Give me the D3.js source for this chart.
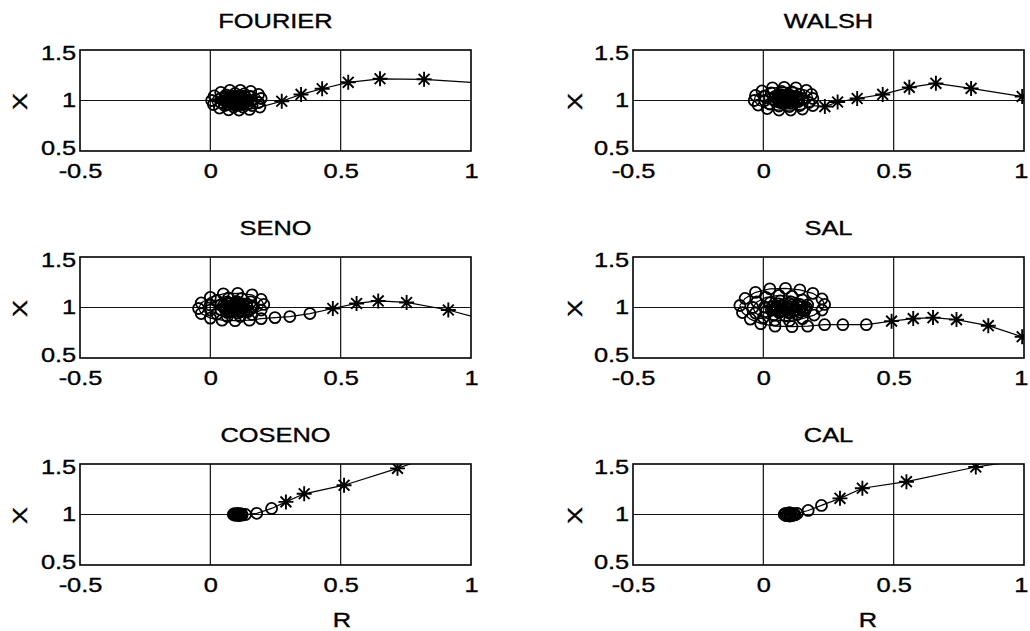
<!DOCTYPE html>
<html>
<head>
<meta charset="utf-8">
<script src="https://cdn.jsdelivr.net/npm/d3@7"></script>
<style>
  body { margin: 0; background: #fff; }
  svg { display: block; }
  text { font-family: "Liberation Sans", Arial, sans-serif; fill: #000; stroke: #000; stroke-width: 0.35px; }
</style>
</head>
<body>
<div id="chart"></div>
<script>
// ticks and titles
var xTicks = [-0.5, 0, 0.5, 1];
var yTicks = [0.5, 1, 1.5];
var titles = ["FOURIER", "WALSH", "SENO", "SAL", "COSENO", "CAL"];

// FOURIER
var fourierStarR = [1.12, 0.82, 0.651, 0.529, 0.429, 0.348, 0.274];
var fourierStarX = [1.16, 1.21, 1.215, 1.18, 1.116, 1.06, 0.993];
var fourierCircR = [0.19, 0.15, 0.11, 0.07, 0.035, 0.012, 0.005, 0.015, 0.04, 0.075, 0.115, 0.155, 0.185, 0.195, 0.185, 0.16,
                    0.125, 0.09, 0.055, 0.04, 0.04, 0.06, 0.095, 0.13, 0.155, 0.16, 0.145,
                    0.12, 0.09, 0.07, 0.07, 0.09, 0.115, 0.132, 0.125,
                    0.14, 0.13, 0.1, 0.07, 0.055, 0.06, 0.08, 0.11, 0.135, 0.145, 0.12, 0.085, 0.065, 0.075, 0.1, 0.125, 0.115, 0.09,
                    0.125, 0.11, 0.09, 0.076, 0.076, 0.09, 0.11, 0.124,
                    0.115, 0.1, 0.087, 0.087, 0.1, 0.113, 0.105, 0.1];
var fourierCircX = [0.935, 0.912, 0.905, 0.908, 0.925, 0.96, 1.0, 1.045, 1.08, 1.10, 1.10, 1.09, 1.06, 1.02, 0.98, 0.95,
                    0.935, 0.935, 0.95, 0.98, 1.02, 1.055, 1.07, 1.065, 1.04, 1.0, 0.97,
                    0.96, 0.962, 0.985, 1.015, 1.035, 1.035, 1.01, 0.985,
                    1.0, 0.965, 0.955, 0.965, 0.995, 1.03, 1.045, 1.045, 1.03, 1.0, 0.975, 0.975, 1.0, 1.025, 1.03, 1.015, 0.99, 0.99,
                    0.99, 0.977, 0.977, 0.99, 1.01, 1.023, 1.023, 1.01,
                    0.992, 0.985, 0.992, 1.008, 1.015, 1.008, 0.998, 1.0];

// WALSH
var walshStarR = [0.993, 0.797, 0.662, 0.56, 0.458, 0.36, 0.285, 0.236];
var walshStarX = [1.04, 1.12, 1.17, 1.13, 1.06, 1.02, 0.985, 0.94];
var walshCircR = [0.19, 0.15, 0.105, 0.06, 0.015, -0.02, -0.035, -0.03, -0.005, 0.035, 0.08, 0.125, 0.165, 0.185, 0.19, 0.175,
                  0.14, 0.1, 0.06, 0.025, 0.005, 0.005, 0.03, 0.07, 0.11, 0.14, 0.15, 0.135,
                  0.105, 0.07, 0.045, 0.045, 0.065, 0.095, 0.115, 0.115,
                  0.13, 0.115, 0.09, 0.06, 0.04, 0.045, 0.07, 0.1, 0.125, 0.135, 0.11, 0.08, 0.055, 0.065, 0.09, 0.115,
                  0.095, 0.07, 0.058, 0.06, 0.078, 0.098, 0.105, 0.09, 0.075, 0.08, 0.075];
var walshCircX = [0.95, 0.915, 0.905, 0.905, 0.92, 0.955, 1.0, 1.05, 1.095, 1.125, 1.13, 1.125, 1.10, 1.06, 1.02, 0.98,
                  0.95, 0.94, 0.945, 0.965, 1.0, 1.04, 1.075, 1.09, 1.085, 1.06, 1.02, 0.99,
                  0.975, 0.975, 0.995, 1.03, 1.055, 1.06, 1.04, 1.01,
                  1.02, 0.99, 0.98, 0.985, 1.01, 1.04, 1.055, 1.055, 1.04, 1.01, 1.0, 1.0, 1.02, 1.04, 1.035, 1.025,
                  0.99, 0.99, 1.005, 1.03, 1.045, 1.04, 1.02, 1.0, 1.01, 1.025, 1.02];

// SENO
var senoStarR = [1.05, 0.913, 0.753, 0.644, 0.561, 0.47];
var senoStarX = [0.88, 0.975, 1.05, 1.065, 1.04, 0.99];
var senoCircR = [0.382, 0.305, 0.248,
                 0.195, 0.15, 0.095, 0.045, 0.0, -0.035, -0.045, -0.035, 0.0, 0.05, 0.105, 0.16, 0.195, 0.205, 0.195, 0.16,
                 0.115, 0.065, 0.025, 0.0, 0.0, 0.025, 0.07, 0.12, 0.155, 0.165, 0.145,
                 0.105, 0.065, 0.04, 0.04, 0.065, 0.1, 0.125, 0.125,
                 0.16, 0.145, 0.115, 0.08, 0.055, 0.05, 0.07, 0.105, 0.14, 0.16, 0.135, 0.1, 0.075, 0.085, 0.115, 0.14, 0.12, 0.095,
                 0.11, 0.085, 0.062, 0.058, 0.075, 0.1, 0.112, 0.1, 0.075, 0.075, 0.085];
var senoCircX = [0.94, 0.91, 0.9,
                 0.89, 0.875, 0.87, 0.875, 0.895, 0.94, 0.99, 1.045, 1.10, 1.135, 1.14, 1.125, 1.08, 1.03, 0.975, 0.93,
                 0.91, 0.91, 0.935, 0.975, 1.025, 1.07, 1.095, 1.09, 1.055, 1.005, 0.96,
                 0.945, 0.95, 0.98, 1.025, 1.055, 1.06, 1.035, 0.995,
                 1.0, 0.965, 0.955, 0.96, 0.985, 1.02, 1.045, 1.05, 1.035, 1.005, 0.98, 0.975, 1.0, 1.025, 1.03, 1.01, 0.995, 1.0,
                 0.97, 0.965, 0.98, 1.01, 1.035, 1.035, 1.01, 0.985, 0.99, 1.01, 1.005];

// SAL
var salStarR = [0.993, 0.863, 0.741, 0.651, 0.575, 0.492];
var salStarX = [0.71, 0.82, 0.88, 0.90, 0.89, 0.865];
var salCircR = [0.395, 0.305, 0.235,
                0.17, 0.11, 0.045, -0.01, -0.05, -0.08, -0.09, -0.07, -0.03, 0.025, 0.085, 0.14, 0.19, 0.225, 0.235, 0.225, 0.195, 0.15,
                0.1, 0.045, 0.0, -0.03, -0.04, -0.025, 0.01, 0.06, 0.11, 0.15, 0.17, 0.16, 0.13,
                0.085, 0.04, 0.01, 0.005, 0.025, 0.065, 0.105, 0.13, 0.125, 0.1,
                0.16, 0.14, 0.1, 0.06, 0.035, 0.035, 0.06, 0.1, 0.14, 0.165, 0.15, 0.115, 0.075, 0.05, 0.07, 0.11, 0.145, 0.125, 0.09,
                0.065, 0.045, 0.05, 0.07, 0.085, 0.075];
var salCircX = [0.83, 0.83, 0.83,
                0.815, 0.81, 0.815, 0.84, 0.885, 0.95, 1.02, 1.09, 1.15, 1.185, 1.19, 1.175, 1.14, 1.085, 1.03, 0.975, 0.925, 0.89,
                0.87, 0.875, 0.9, 0.945, 1.0, 1.055, 1.1, 1.12, 1.11, 1.075, 1.025, 0.97, 0.93,
                0.915, 0.925, 0.96, 1.005, 1.045, 1.065, 1.055, 1.02, 0.98, 0.955,
                0.99, 0.955, 0.945, 0.95, 0.975, 1.01, 1.035, 1.04, 1.03, 1.0, 0.97, 0.96, 0.97, 0.995, 1.02, 1.025, 1.005, 0.98, 0.985,
                0.955, 0.98, 1.01, 1.02, 1.0, 0.99];

// COSENO
var cosenoStarR = [0.9, 0.718, 0.513, 0.36, 0.29];
var cosenoStarX = [1.62, 1.457, 1.29, 1.205, 1.125];
var cosenoCircR = [0.235, 0.178, 0.135, 0.12, 0.108, 0.095, 0.088, 0.092, 0.104, 0.117, 0.122, 0.112, 0.1, 0.098, 0.107, 0.11];
var cosenoCircX = [1.06, 1.012, 1.0, 0.993, 0.99, 0.992, 1.0, 1.008, 1.012, 1.008, 0.998, 0.992, 0.996, 1.004, 1.005, 1.0];

// CAL
var calStarR = [1.05, 0.815, 0.549, 0.38, 0.294];
var calStarX = [1.56, 1.47, 1.325, 1.26, 1.16];
var calCircR = [0.223, 0.172, 0.13, 0.118, 0.102, 0.088, 0.08, 0.085, 0.1, 0.115, 0.122, 0.11, 0.095, 0.092, 0.103, 0.105];
var calCircX = [1.09, 1.04, 1.01, 0.995, 0.985, 0.988, 1.0, 1.012, 1.018, 1.01, 0.998, 0.99, 0.995, 1.006, 1.008, 1.0];

var panels = [
  {starR: fourierStarR, starX: fourierStarX, circR: fourierCircR, circX: fourierCircX},
  {starR: walshStarR, starX: walshStarX, circR: walshCircR, circX: walshCircX},
  {starR: senoStarR, starX: senoStarX, circR: senoCircR, circX: senoCircX},
  {starR: salStarR, starX: salStarX, circR: salCircR, circX: salCircX},
  {starR: cosenoStarR, starX: cosenoStarX, circR: cosenoCircR, circX: cosenoCircX},
  {starR: calStarR, starX: calStarX, circR: calCircR, circX: calCircX}
];

// layout of the 3x2 grid
var colLeft = [80, 633],
    rowTop = [50, 257, 464],
    width = 391,
    height = 101,
    stretch = 1.27;   // scanned text is wider than plain Arial

var svg = d3.select("#chart")
  .append("svg")
    .attr("width", 1030)
    .attr("height", 631);

// 8-armed asterisk like matlab '*'
var s = 7.5, a = s * 0.72;
var starPath = "M" + (-s) + ",0L" + s + ",0M0," + (-s) + "L0," + s +
               "M" + (-a) + "," + (-a) + "L" + a + "," + a +
               "M" + (-a) + "," + a + "L" + a + "," + (-a);

function addText(g, x, y, txt, size, rotate) {
  g.append("text")
    .attr("transform", "translate(" + x + "," + y + ")" + (rotate ? " rotate(-90)" : "") + " scale(" + stretch + ",1)")
    .attr("text-anchor", "middle")
    .style("font-size", size + "px")
    .text(txt);
}

panels.forEach(function(p, i) {
  var col = i % 2, row = Math.floor(i / 2);
  var g = svg.append("g")
    .attr("transform", "translate(" + colLeft[col] + "," + rowTop[row] + ")");

  var x = d3.scaleLinear().domain([-0.5, 1]).range([0, width]);
  var y = d3.scaleLinear().domain([0.5, 1.5]).range([height, 0]);

  var clipId = "clip" + i;
  g.append("clipPath").attr("id", clipId)
    .append("rect").attr("width", width).attr("height", height);

  // grid
  g.append("g").selectAll("line").data(xTicks.slice(1, -1)).join("line")
    .attr("x1", d => x(d)).attr("x2", d => x(d))
    .attr("y1", 0).attr("y2", height)
    .attr("stroke", "#111").attr("stroke-width", 1.2);
  g.append("g").selectAll("line").data(yTicks.slice(1, -1)).join("line")
    .attr("x1", 0).attr("x2", width)
    .attr("y1", d => y(d)).attr("y2", d => y(d))
    .attr("stroke", "#111").attr("stroke-width", 1.2);

  // axes (labels only)
  var xa = g.append("g")
    .attr("transform", "translate(0," + height + ")")
    .call(d3.axisBottom(x).tickValues(xTicks).tickSize(0).tickPadding(13).tickFormat(d => String(d)));
  var ya = g.append("g")
    .call(d3.axisLeft(y).tickValues(yTicks).tickSize(0).tickPadding(3).tickFormat(d => String(d)));
  [xa, ya].forEach(function(ax) {
    ax.select(".domain").remove();
    ax.selectAll("text")
      .attr("transform", "scale(" + stretch + ",1)")
      .style("font-size", "20px")
      .style("font-family", '"Liberation Sans", Arial, sans-serif')
      .attr("fill", "#000");
  });
  // end labels sit a little inside the frame
  ya.selectAll("text").attr("y", d => d > 1 ? 3 : (d < 1 ? -3 : 0));
  // keep the last label of the right column inside the page
  if (col === 1) xa.selectAll("text").attr("x", d => d === 1 ? -2.5 : 0);

  // trajectory: stars first, then circles
  var pts = p.starR.map((r, k) => [r, p.starX[k]])
    .concat(p.circR.map((r, k) => [r, p.circX[k]]));

  var plot = g.append("g").attr("clip-path", "url(#" + clipId + ")");
  plot.append("path")
    .datum(pts)
    .attr("fill", "none")
    .attr("stroke", "#000")
    .attr("stroke-width", 1.2)
    .attr("d", d3.line().x(d => x(d[0])).y(d => y(d[1])));

  plot.selectAll("circle")
    .data(p.circR.map((r, k) => [r, p.circX[k]]))
    .join("circle")
      .attr("cx", d => x(d[0]))
      .attr("cy", d => y(d[1]))
      .attr("r", 5.5)
      .attr("fill", "none")
      .attr("stroke", "#000")
      .attr("stroke-width", 1.8);

  plot.selectAll(".star")
    .data(p.starR.map((r, k) => [r, p.starX[k]]))
    .join("path")
      .attr("class", "star")
      .attr("transform", d => "translate(" + x(d[0]) + "," + y(d[1]) + ")")
      .attr("d", starPath)
      .attr("stroke", "#000")
      .attr("stroke-width", 1.9);

  // frame
  g.append("rect")
    .attr("width", width).attr("height", height)
    .attr("fill", "none").attr("stroke", "#000").attr("stroke-width", 1.6);

  addText(g, width / 2, -22, titles[i], 20);
  addText(g, col === 0 ? -53 : -51, height / 2 + 1, "X", 20, true);
  if (row === 2) {
    addText(g, col === 0 ? 262 : 235, height + 62, "R", 20);
  }
});
</script>
</body>
</html>
